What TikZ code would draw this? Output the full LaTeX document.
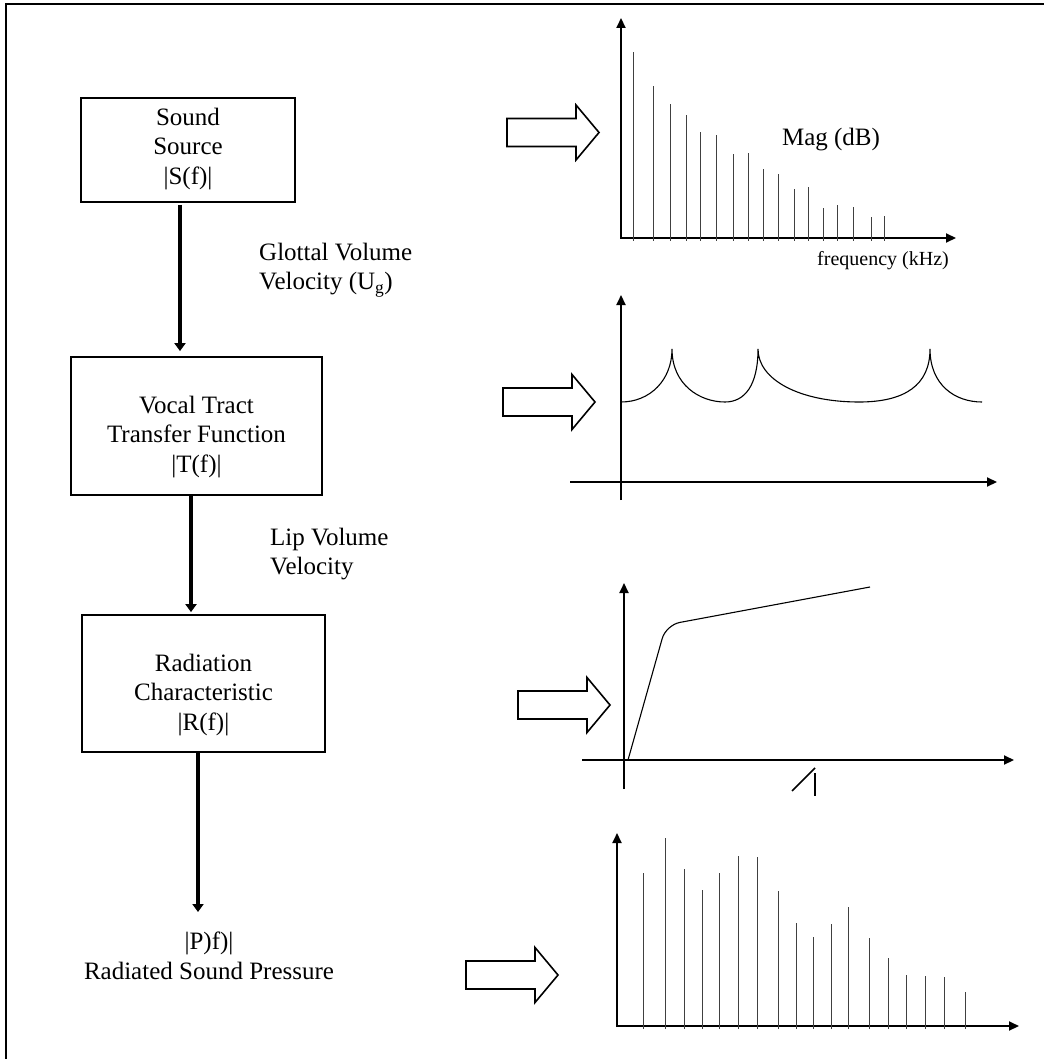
\documentclass[tikz,border=0pt]{standalone}
\usepackage{fontspec}
\setmainfont{Liberation Serif}
\usetikzlibrary{arrows.meta}
\newcommand\bigfs{\fontsize{25}{29.5}\selectfont}
\newcommand\smallfs{\fontsize{20}{24}\selectfont}
\tikzset{
  boxnode/.style={draw, line width=1.8pt, inner sep=0pt},
  txt/.style={font=\bigfs, align=center, inner sep=0pt},
  lbl/.style={font=\bigfs, align=left, inner sep=0pt, anchor=west},
  flow/.style={line width=4.5pt, -{Triangle[width=11pt,length=8pt]}},
  axis/.style={line width=2pt, -{Triangle[width=9pt,length=10pt]}},
  bar/.style={line width=1pt, black!75},
  curve/.style={line width=1.1pt},
  blockarrow/.pic={\draw[line width=1.6pt, line join=miter] (0,-14) -- (69,-14) -- (69,-27.5) -- (92,0) -- (69,27.5) -- (69,14) -- (0,14) -- cycle;}
}
\begin{document}
\begin{tikzpicture}[x=1pt,y=-1pt]
\useasboundingbox (0,0) rectangle (1043,1059);
\fill[white] (0,0) rectangle (1043,1059);
% frame (right and bottom edges lie outside the picture)
\draw[line width=2pt] (6,4) rectangle (1070,1090);

% left chain
\node[boxnode, minimum width=214pt, minimum height=104pt] (box1) at (188,150) {};
\node[txt] (t1) at (188,149) {Sound\\Source\\|S(f)|};
\node[boxnode, minimum width=251pt, minimum height=138pt] (box2) at (196.5,426) {};
\node[txt] (t2) at (196.5,437) {Vocal Tract\\Transfer Function\\|T(f)|};
\node[boxnode, minimum width=243pt, minimum height=137pt] (box3) at (203.5,683.5) {};
\node[txt] (t3) at (203.5,695) {Radiation\\Characteristic\\|R(f)|};
\node[txt] (pout) at (209,956) {|P)f)|\\Radiated Sound Pressure};

\coordinate (x1) at (180,0);
\coordinate (x2) at (191,0);
\coordinate (x3) at (198,0);
\coordinate (pend) at (198,912);
\draw[flow, shorten <=2pt, shorten >=5pt] (x1 |- box1.south) -- (x1 |- box2.north);
\draw[flow, shorten >=2pt] (x2 |- box2.south) -- (x2 |- box3.north);
\draw[flow] (x3 |- box3.south) -- (pend);

\node[lbl] (glottal) at (259,270) {Glottal Volume\\Velocity (U\textsubscript{g})};
\node[lbl] (lip) at (270,554) {Lip Volume\\Velocity};

% block arrows
\pic at (507,132.5) {blockarrow};
\pic at (503,402) {blockarrow};
\pic at (518,705) {blockarrow};
\pic at (466,975) {blockarrow};

% plot 1: source spectrum
\draw[axis] (621,239) -- (621,18);
\draw[axis] (620,238) -- (956,238);
\foreach \x/\y in {633/52,653/86,670/104,686/115,700/132,716/135,733/154,748/153,763/169,778/174,794/189,808/187,823/208,837/205,853/207,871/217,884/216}
  \draw[bar] (\x,241) -- (\x,\y);
\node[font=\bigfs, inner sep=0pt] (mag) at (831,140) {Mag (dB)};
\node[font=\smallfs, inner sep=0pt] (freq) at (883,261) {frequency (kHz)};

% plot 2: vocal tract transfer function
\draw[axis] (621,500) -- (621,295);
\draw[axis] (570,482) -- (997,482);
\draw[curve] (621,402) .. controls (650,402) and (672,380) .. (672,349)
  .. controls (672,385) and (700,402) .. (725,402)
  .. controls (745,402) and (758,385) .. (758,349)
  .. controls (758,380) and (800,402) .. (859,402)
  .. controls (905,402) and (930,385) .. (930,349)
  .. controls (930,385) and (955,402) .. (982,402);

% plot 3: radiation characteristic
\draw[axis] (624,789) -- (624,583);
\draw[axis] (582,760) -- (1014,760);
\draw[curve, rounded corners=14pt] (628,760) -- (666,625) -- (870,587);
\draw[line width=1.6pt] (792,791) -- (815,768);
\draw[line width=1.6pt] (815,773) -- (815,796);

% plot 4: radiated spectrum
\draw[axis] (617,1027) -- (617,833);
\draw[axis] (616,1026) -- (1019,1026);
\foreach \x/\y in {643/873,665/838,684/869,702/890,719/873,738/856,757/857,778/891,796/923,813/937,831/924,848/907,869/938,888/958,906/975,925/976,944/977,965/992}
  \draw[bar] (\x,1029) -- (\x,\y);
\end{tikzpicture}
\end{document}
